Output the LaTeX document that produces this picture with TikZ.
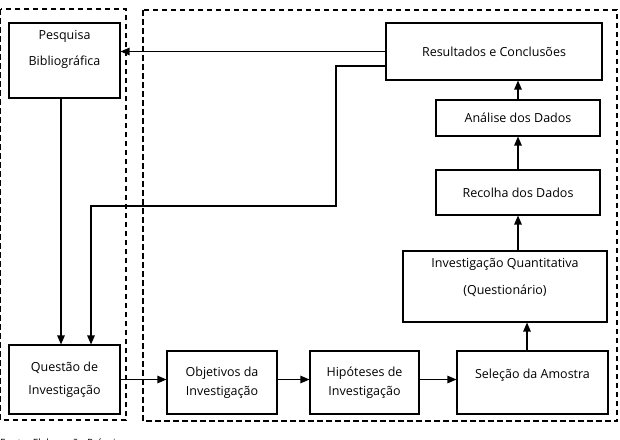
\documentclass[tikz,border=0pt]{standalone}
\usepackage{fontspec}
\setmainfont{Open Sans}
\usetikzlibrary{arrows.meta}
\tikzset{
  box/.style={draw, line width=1.1pt, inner sep=0pt, align=center, font=\fontsize{12.5}{15}\selectfont},
  txt/.style={inner sep=0pt, align=center, font=\fontsize{12.5}{15}\selectfont},
  arr/.style={-{Triangle[length=9pt,width=7.5pt]}, line width=1.2pt},
  dbox/.style={draw, line width=1.2pt, dash pattern=on 5.5pt off 3.5pt}
}
\begin{document}
\begin{tikzpicture}[x=1pt,y=-1pt]
\useasboundingbox (0,0) rectangle (620,439);
% dashed groups
\draw[dbox] (0.6,9) rectangle (126,420);
\draw[dbox] (143,10) rectangle (617,421);
% boxes
\node[box, minimum width=111pt, minimum height=75pt] (pb) at (64.5,60.5) {};
\node[txt] (pbt) at (64.5,49) {Pesquisa\\[11pt]Bibliográfica};
\node[box, minimum width=216pt, minimum height=57pt] (rc) at (494,51.5) {Resultados e Conclusões};
\node[box, minimum width=164pt, minimum height=36pt] (an) at (518,118) {Análise dos Dados};
\node[box, minimum width=164pt, minimum height=45pt] (re) at (518,192.5) {Recolha dos Dados};
\node[box, minimum width=204pt, minimum height=71pt] (iq) at (505,286.5) {};
\node[txt] (iqt) at (505,277.5) {Investigação Quantitativa\\[12pt](Questionário)};
\node[box, minimum width=111pt, minimum height=69pt] (qi) at (64.5,379.5) {Questão de\\[8pt]Investigação};
\node[box, minimum width=110pt, minimum height=63pt] (ob) at (222,382.5) {Objetivos da\\[4pt]Investigação};
\node[box, minimum width=109pt, minimum height=63pt] (hi) at (364.5,382.5) {Hipóteses de\\[4pt]Investigação};
\node[box, minimum width=151pt, minimum height=63pt] (sa) at (532.5,382.5) {};
\node[txt] (sat) at (532.5,375) {Seleção da Amostra};
% connectors
\draw[arr] (rc.west) -- (rc.west -| pb.east);
\coordinate (c1) at (336,66);
\coordinate (c2) at (336,206);
\coordinate (c3) at (91,206);
\draw[arr] (c1 -| rc.west) -- (c1) -- (c2) -- (c3) -- (c3 |- qi.north);
\draw[arr] ([xshift=-3.5pt]pb.south) -- ([xshift=-3.5pt]pb.south |- qi.north);
\draw[arr] (qi.east) -- (qi.east -| ob.west);
\draw[arr] (qi.east -| ob.east) -- (qi.east -| hi.west);
\draw[arr] (qi.east -| hi.east) -- (qi.east -| sa.west);
\coordinate (c4) at (527,351);
\draw[arr] (c4) -- (c4 |- iq.south);
\draw[arr] (re.south |- iq.north) -- (re.south);
\draw[arr] (re.north) -- (an.south);
\draw[arr] (an.north) -- (an.north |- rc.south);
% caption (cut off at the bottom, as in the reference)
\node[anchor=base west, inner sep=0pt, font=\fontsize{10}{12}\selectfont] (cap) at (0,446) {Fonte: Elaboração Própria};
\end{tikzpicture}
\end{document}
